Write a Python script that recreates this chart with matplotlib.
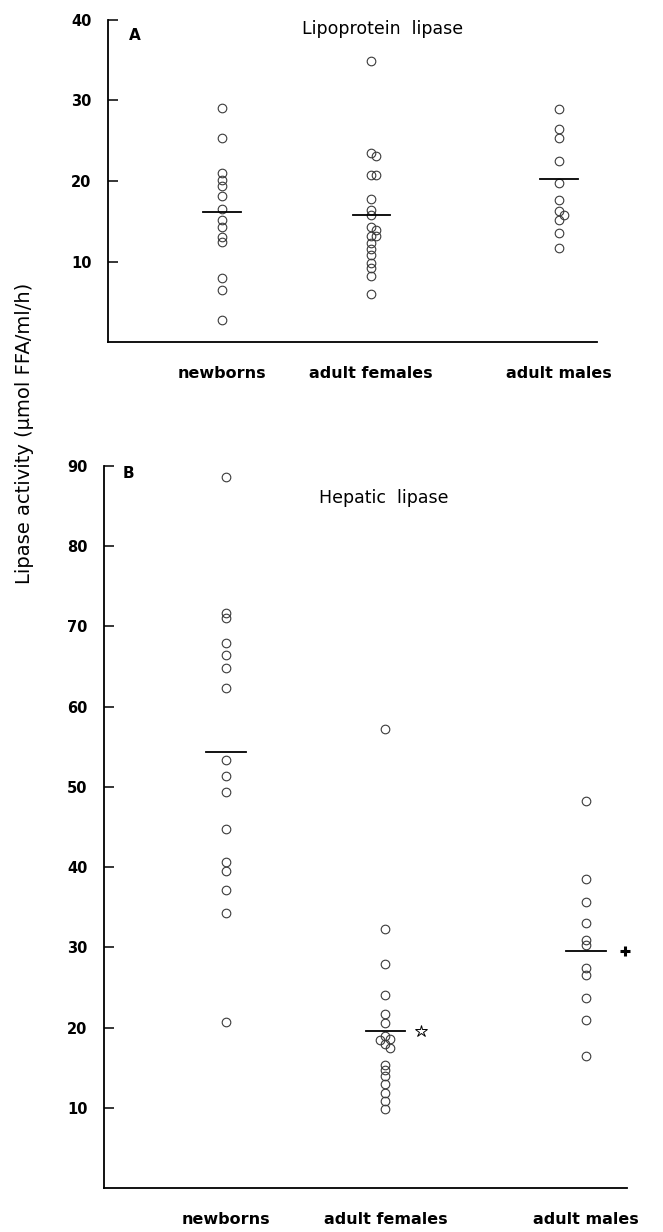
import numpy as np
import matplotlib
matplotlib.use("Agg")
import matplotlib.pyplot as plt

plt.rcParams['font.family'] = ['DejaVu Sans']

# Groups
groups = ['newborns', 'adult females', 'adult males']

# Panel A - lipoprotein lipase (umol FFA/ml/h)
lpl_newborns = [29.1, 25.3, 21.0, 20.1, 19.4, 18.1, 16.5, 15.2, 14.3, 13.1, 12.4, 8.0, 6.5, 2.7]
lpl_females = [34.9, 23.5, 23.1, 20.8, 20.8, 17.8, 16.4, 15.8, 14.3, 13.9, 13.2, 13.2,
               12.3, 11.6, 10.8, 9.8, 9.2, 8.2, 6.0]
lpl_males = [28.9, 26.4, 25.4, 22.5, 19.7, 17.7, 16.3, 15.8, 15.2, 13.6, 11.7]
lpl_means = [16.1, 15.8, 20.2]

# Panel B - hepatic lipase
hl_newborns = [88.6, 71.7, 71.1, 67.9, 66.5, 64.8, 62.3, 53.3, 51.4, 49.4, 44.7,
               40.6, 39.5, 37.1, 34.3, 20.7]
hl_females = [57.2, 32.3, 27.9, 24.1, 21.7, 20.6, 19.0, 18.6, 18.5, 18.0, 17.5,
              15.3, 14.7, 14.0, 13.0, 11.9, 10.9, 9.9]
hl_males = [48.2, 38.5, 35.7, 33.0, 30.9, 30.3, 27.4, 26.5, 23.7, 21.0, 16.5]
hl_means = [54.3, 19.6, 29.5]

# layout: column positions (columns are not evenly spaced in the original)
group_x = [1.0, 2.0, 3.26]


def dodge(vals, px_per_val, px_per_x, step=5.0, min_d=4.5):
    ''' shift overlapping circles sideways a little, like the hand-drawn original
    '''
    placed = []
    offs = []
    for v in vals:
        dx = 0.0
        for k in [0, 1, -1, 2, -2]:
            dx = k * step
            if all(np.hypot(dx - pdx, (v - pv) * px_per_val) >= min_d for pdx, pv in placed):
                break
        placed.append((dx, v))
        offs.append(dx / px_per_x)
    return np.array(offs)


def panel(ax, data, means, ymax, px_per_val, px_per_x):
    for gx, vals in zip(group_x, data):
        xs = gx + dodge(vals, px_per_val, px_per_x)
        ax.plot(xs, vals, 'o', ms=6.2, mfc='none', mec='#3a3a3a', mew=0.8, zorder=3)
    for gx, m in zip(group_x, means):
        ax.plot([gx - 0.125, gx + 0.125], [m, m], color='black', lw=1.3, zorder=4)

    ax.set_ylim(0, ymax)
    ax.set_xlim(0.235, 3.515)
    ax.set_yticks(np.arange(10, ymax + 1, 10))
    ax.set_xticks(group_x)
    ax.set_xticklabels(groups, fontsize=11.5, fontweight='bold')
    ax.tick_params(axis='y', direction='in', length=7, width=1.1, labelsize=10.5, pad=12)
    ax.tick_params(axis='x', length=0, pad=17)
    for lab in ax.get_yticklabels():
        lab.set_fontweight('bold')
    ax.spines['top'].set_visible(False)
    ax.spines['right'].set_visible(False)
    ax.spines['left'].set_linewidth(1.3)
    ax.spines['bottom'].set_linewidth(1.3)


fig = plt.figure(figsize=(6.63, 12.32), dpi=100)

# Panel A
axA = fig.add_axes([108 / 663, 1 - 342 / 1232, 489 / 663, 322 / 1232])
panel(axA, [lpl_newborns, lpl_females, lpl_males], lpl_means, 40, 8.05, 149)
axA.text(0.055, 0.953, 'A', transform=axA.transAxes, fontsize=11, fontweight='bold',
         ha='center', va='center')
axA.text(0.562, 0.972, 'Lipoprotein  lipase', transform=axA.transAxes, fontsize=12.5,
         ha='center', va='center')

# Panel B
axB = fig.add_axes([104 / 663, 1 - 1188 / 1232, 523 / 663, 722 / 1232])
panel(axB, [hl_newborns, hl_females, hl_males], hl_means, 90, 8.02, 159)
axB.text(0.046, 0.99, 'B', transform=axB.transAxes, fontsize=11, fontweight='bold',
         ha='center', va='center')
axB.text(0.535, 0.956, 'Hepatic  lipase', transform=axB.transAxes, fontsize=12.5,
         ha='center', va='center')

# significance marks next to the mean bars
axB.plot(group_x[1] + 0.22, hl_means[1], marker='*', ms=9, mfc='white', mec='black',
         mew=0.7, zorder=5, clip_on=False)
axB.plot(group_x[2] + 0.24, hl_means[2], marker='+', ms=7, mew=2.2, color='black',
         zorder=5, clip_on=False)

# shared y label
fig.text(0.037, 1 - 433 / 1232, 'Lipase activity (\u00b5mol FFA/ml/h)', rotation=90,
         ha='center', va='center', fontsize=14)

fig.savefig('out.png', dpi=100)
